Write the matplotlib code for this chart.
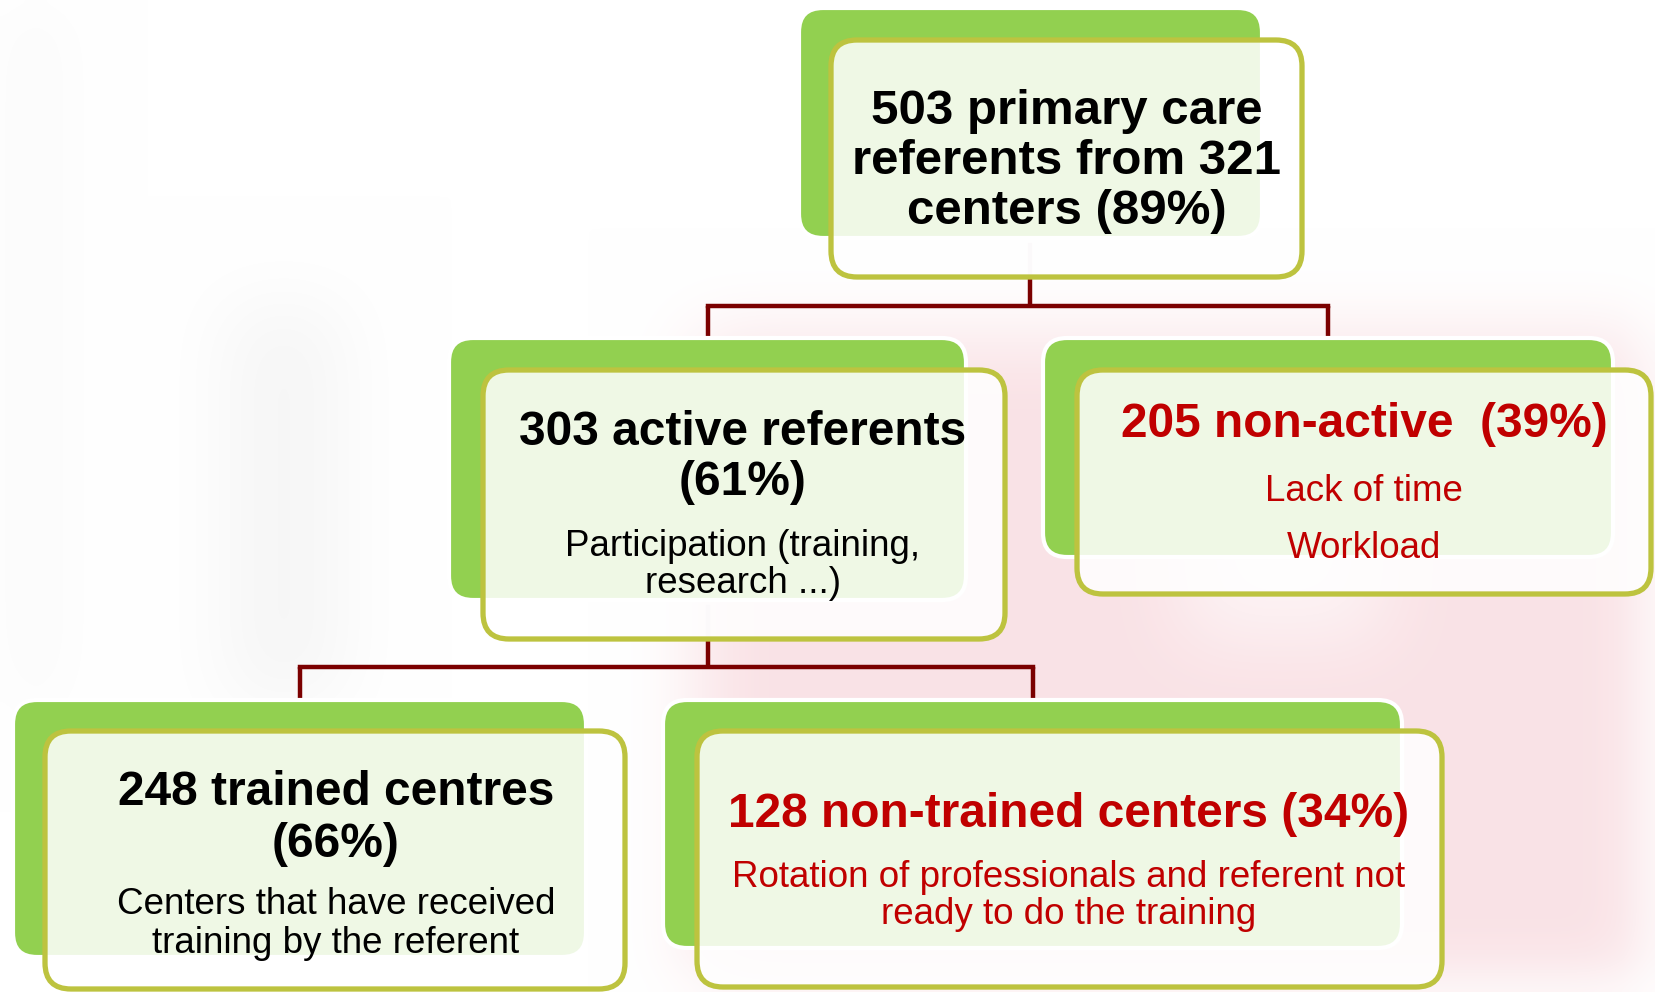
import numpy as np
import matplotlib
matplotlib.use("Agg")
import matplotlib.pyplot as plt
from matplotlib.patches import FancyBboxPatch

plt.rcParams['font.family'] = ['Liberation Sans', 'DejaVu Sans']

# texts of the flow chart, one list of lines per box
titles = [["503 primary care", "referents from 321", "centers (89%)"],
          ["303 active referents", "(61%)"],
          ["205 non-active  (39%)"],
          ["248 trained centres", "(66%)"],
          ["128 non-trained centers (34%)"]]
details = [[],
           ["Participation (training,", "research ...)"],
           ["Lack of time", "Workload"],
           ["Centers that have received", "training by the referent"],
           ["Rotation of professionals and referent not", "ready to do the training"]]
text_colors = ["black", "black", "#C00000", "black", "#C00000"]

# layout in pixels (x0, y0, x1, y1): back green box and front framed box
back_boxes = [(799, 8, 1262, 238), (449, 338, 966, 600), (1043, 338, 1613, 557),
              (13, 700, 586, 957), (663, 700, 1402, 948)]
front_boxes = [(831, 40, 1302, 277), (483, 370, 1005, 639), (1077, 370, 1651, 594),
               (45, 731, 625, 989), (697, 731, 1442, 987)]
# visual centre of each text line
title_y = [[106, 156, 206], [428, 478], [420], [788, 840], [810]]
detail_y = [[], [543, 580], [488, 545], [901, 940], [874, 911]]
text_x = [1067, 743, 1364, 336, 1069]

W, H = 1656, 992
fig = plt.figure(figsize=(16.56, 9.92), dpi=100)
ax = fig.add_axes([0, 0, 1, 1])
ax.set_xlim(0, W)
ax.set_ylim(H, 0)
ax.axis('off')

# faint blurred background (watermark-like)
gy, gx = np.mgrid[0:H:8, 0:W:8]
pink = ((gx > 690) & (gy > 330)).astype(float)
pink *= 1 - 0.6 * ((gx > 1180) & (gx < 1380) & (gy > 420) & (gy < 640))
gray = (((gx < 40) & (gy < 700)) |
        ((gx > 220) & (gx < 340) & (gy > 300) & (gy < 700))).astype(float)
k = np.ones(9) / 9
for _ in range(3):
    for arr in (pink, gray):
        arr[:] = np.apply_along_axis(lambda r: np.convolve(r, k, mode='same'), 1, arr)
        arr[:] = np.apply_along_axis(lambda c: np.convolve(c, k, mode='same'), 0, arr)
bg = np.ones((gx.shape[0], gx.shape[1], 3))
pink_rgb = np.array([0.97, 0.84, 0.86])
bg = bg * (1 - 0.7 * pink[..., None]) + pink_rgb * 0.7 * pink[..., None]
bg = bg - 0.035 * gray[..., None]
ax.imshow(np.clip(bg, 0, 1), extent=(0, W, H, 0), interpolation='bicubic',
          aspect='auto', zorder=0)

line_col = '#7B0000'
lw = 3.2


def connector(px, y_top, y_bar, kid_xs, y_bottom):
    ax.plot([px, px], [y_top - 32, y_top], color='#E9DCDE', lw=lw, zorder=2)
    ax.plot([px, px], [y_top, y_bar], color=line_col, lw=lw, zorder=2,
            solid_capstyle='butt')
    ax.plot([min(kid_xs), max(kid_xs)], [y_bar, y_bar], color=line_col, lw=lw,
            zorder=2, solid_capstyle='projecting')
    for x in kid_xs:
        ax.plot([x, x], [y_bar, y_bottom], color=line_col, lw=lw, zorder=2,
                solid_capstyle='butt')


connector(1030, 277, 306, [708, 1328], 338)
connector(708, 639, 667, [300, 1033], 700)

for i in range(len(titles)):
    bx0, by0, bx1, by1 = back_boxes[i]
    fx0, fy0, fx1, fy1 = front_boxes[i]
    ax.add_patch(FancyBboxPatch((bx0, by0), bx1 - bx0, by1 - by0,
                                boxstyle="round,pad=0,rounding_size=24",
                                facecolor='#92D050', edgecolor='white', lw=3, zorder=3))
    ax.add_patch(FancyBboxPatch((fx0, fy0), fx1 - fx0, fy1 - fy0,
                                boxstyle="round,pad=0,rounding_size=26",
                                facecolor=(1, 1, 1, 0.86), edgecolor='#BDC33F',
                                lw=3.8, zorder=4))
    size = 35.5 if i == 0 else 34.5
    cap = 0.716 * size * 100 / 72
    for line, y in zip(titles[i], title_y[i]):
        ax.text(text_x[i], y + cap / 2, line, ha='center', va='baseline',
                fontsize=size, fontweight='bold', color=text_colors[i], zorder=5)
    cap = 0.716 * 26.5 * 100 / 72
    for line, y in zip(details[i], detail_y[i]):
        ax.text(text_x[i], y + cap / 2, line, ha='center', va='baseline',
                fontsize=26.5, color=text_colors[i], zorder=5)

fig.savefig('out.png', dpi=100)
